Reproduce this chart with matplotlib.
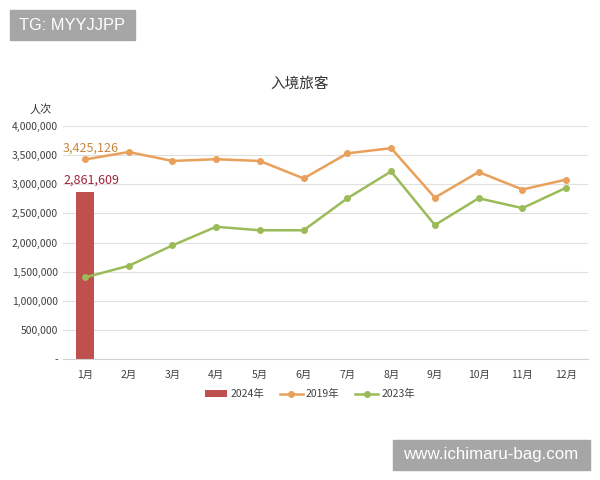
import matplotlib
matplotlib.use("Agg")
import matplotlib.pyplot as plt
from matplotlib.ticker import FuncFormatter
from matplotlib.patches import Rectangle

plt.rcParams['font.family'] = ['Noto Sans CJK SC', 'DejaVu Sans']

months = ["1月", "2月", "3月", "4月", "5月", "6月", "7月", "8月", "9月", "10月", "11月", "12月"]
v2024 = [2861609]
v2019 = [3425126, 3554000, 3400000, 3430000, 3400000, 3100000, 3530000, 3620000, 2770000, 3210000, 2910000, 3080000]
v2023 = [1400000, 1600000, 1950000, 2270000, 2210000, 2210000, 2760000, 3220000, 2300000, 2760000, 2590000, 2940000]
yticks = [0, 500000, 1000000, 1500000, 2000000, 2500000, 3000000, 3500000, 4000000]

c_bar = "#C0504D"
c_2019 = "#E8A05A"
c_2023 = "#9BBB59"

fig = plt.figure(figsize=(6, 4.8), dpi=100)
ax = fig.add_axes([0.105, 0.252, 0.875, 0.4855])

x = list(range(len(months)))
hb = ax.bar(x[:len(v2024)], v2024, width=0.42, color=c_bar, label="2024年", zorder=2)
h19, = ax.plot(x, v2019, color=c_2019, lw=1.8, marker='o', ms=4, label="2019年", zorder=3)
h23, = ax.plot(x, v2023, color=c_2023, lw=1.8, marker='o', ms=4, label="2023年", zorder=3)

ax.text(x[0] - 0.5, v2019[0] + 90000, f"{v2019[0]:,}", color="#C8873F", fontsize=9,
        ha='left', va='bottom')
ax.text(x[0] - 0.5, v2024[0] + 90000, f"{v2024[0]:,}", color="#A0243A", fontsize=9,
        ha='left', va='bottom')

ax.set_xlim(-0.5, len(months) - 0.5)
ax.set_ylim(0, 4000000)
ax.set_yticks(yticks)
ax.yaxis.set_major_formatter(FuncFormatter(lambda v, p: "-" if v == 0 else f"{int(v):,}"))
ax.set_xticks(x)
ax.set_xticklabels(months)
ax.tick_params(axis='both', length=0, labelsize=7.5, colors="#404040")
ax.tick_params(axis='x', pad=8)
ax.grid(axis='y', color="#E0E0E0", lw=0.8, zorder=0)
for s in ['top', 'right', 'left']:
    ax.spines[s].set_visible(False)
ax.spines['bottom'].set_color("#D0D0D0")

fig.text(0.5, 0.825, "入境旅客", ha='center', va='center', fontsize=10.5, color="#333333")
fig.text(0.068, 0.771, "人次", ha='center', va='center', fontsize=8, color="#333333")

leg = ax.legend([hb, h19, h23], ["2024年", "2019年", "2023年"], loc='upper center',
                bbox_to_anchor=(0.47, -0.09), ncol=3, frameon=False,
                fontsize=7.5, handlelength=2.2, columnspacing=1.5, handletextpad=0.3)
for t in leg.get_texts():
    t.set_color("#404040")

# watermark boxes
fig.patches.append(Rectangle((10/600, 1 - 40/480), 125/600, 30/480, transform=fig.transFigure,
                             color="#A6A6A6", zorder=5))
fig.text(72/600, 1 - 25/480, "TG: MYYJJPP", color="white", fontsize=11.8, ha='center', va='center',
         family=['Liberation Sans', 'DejaVu Sans'], zorder=6)
fig.patches.append(Rectangle((393/600, 1 - 470/480), 197/600, 30/480, transform=fig.transFigure,
                             color="#A6A6A6", zorder=5))
fig.text(491/600, 1 - 455/480, "www.ichimaru-bag.com", color="white", fontsize=12.2, ha='center',
         va='center', family=['Liberation Sans', 'DejaVu Sans'], zorder=6)

fig.savefig("out.png", dpi=100)
